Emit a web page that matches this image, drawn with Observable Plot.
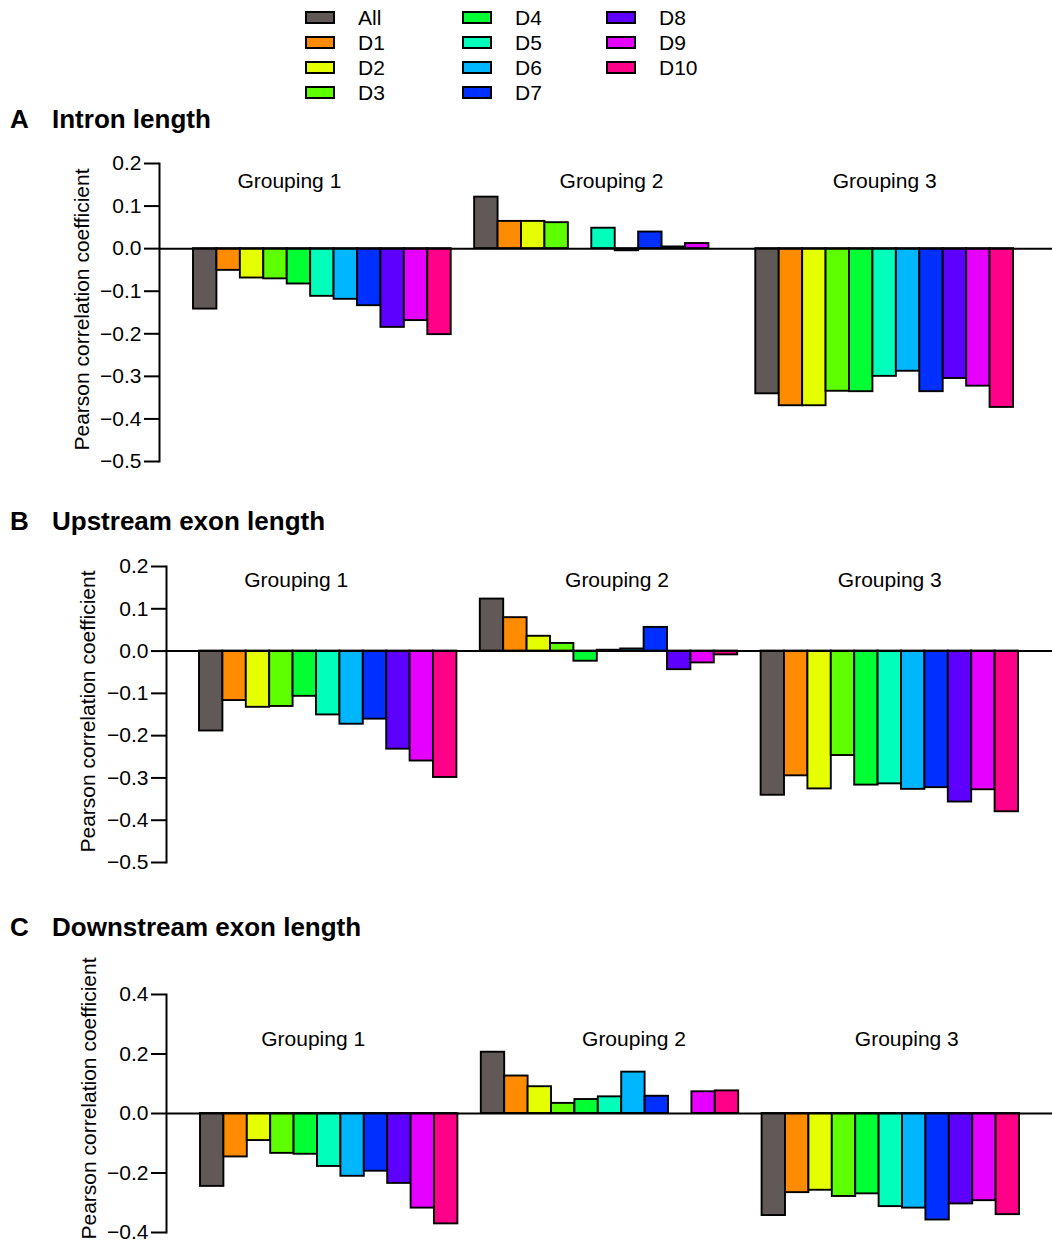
<!DOCTYPE html>
<html>
<head>
<meta charset="utf-8">
<script src="https://cdn.jsdelivr.net/npm/d3@7"></script>
<script src="https://cdn.jsdelivr.net/npm/@observablehq/plot@0.6"></script>
<style>
  body { margin: 0; background: #fff; font-family: "Liberation Sans", Arial, sans-serif; color: #000; }
  #page { position: relative; width: 1052px; height: 1247px; overflow: hidden; }
  .abs { position: absolute; }
  .title { font-weight: bold; font-size: 26px; line-height: 26px; white-space: nowrap; }
  .leg { display: flex; align-items: center; height: 25px; font-size: 21px; line-height: 25px; }
  .sw { position: absolute; width: 30px; height: 13px; box-sizing: border-box; border: 2px solid #000; }
  .lt { position: absolute; }
</style>
</head>
<body>
<div id="page"></div>
<script>
// ---------- data ----------
const series = ["All", "D1", "D2", "D3", "D4", "D5", "D6", "D7", "D8", "D9", "D10"];
const colors = ["#615957", "#ff8c00", "#e6ff00", "#5eff00", "#00ff33", "#00ffbb", "#00b6ff", "#0030ff", "#5e00ff", "#e600ff", "#ff0088"];
const groupings = ["Grouping 1", "Grouping 2", "Grouping 3"];

// A: Intron length
const intronG1 = [-0.142, -0.051, -0.069, -0.071, -0.083, -0.112, -0.119, -0.134, -0.185, -0.169, -0.202];
const intronG2 = [0.121, 0.064, 0.064, 0.061, 0.0, 0.048, -0.005, 0.039, 0.004, 0.012, 0.0];
const intronG3 = [-0.341, -0.369, -0.369, -0.335, -0.336, -0.300, -0.288, -0.336, -0.305, -0.323, -0.373];

// B: Upstream exon length
const upstreamG1 = [-0.189, -0.117, -0.133, -0.131, -0.107, -0.151, -0.173, -0.161, -0.232, -0.260, -0.299];
const upstreamG2 = [0.123, 0.079, 0.035, 0.018, -0.024, 0.002, 0.005, 0.056, -0.044, -0.028, -0.009];
const upstreamG3 = [-0.341, -0.295, -0.326, -0.247, -0.317, -0.314, -0.327, -0.323, -0.357, -0.328, -0.380];

// C: Downstream exon length
const downstreamG1 = [-0.245, -0.146, -0.091, -0.134, -0.137, -0.178, -0.211, -0.194, -0.235, -0.318, -0.371];
const downstreamG2 = [0.206, 0.126, 0.090, 0.034, 0.047, 0.056, 0.139, 0.058, 0.0, 0.073, 0.076];
const downstreamG3 = [-0.343, -0.266, -0.258, -0.279, -0.270, -0.313, -0.318, -0.358, -0.304, -0.293, -0.340];

const ticksAB = [0.2, 0.1, 0.0, -0.1, -0.2, -0.3, -0.4, -0.5];
const ticksC = [0.4, 0.2, 0.0, -0.2, -0.4];
const yLabel = "Pearson correlation coefficient";

// ---------- layout ----------
const page = document.getElementById("page");
const FONT = '"Liberation Sans", Arial, sans-serif';

// legend (column-major, 4 rows)
const legCols = [305, 462, 606];
const legRows = [5, 30, 55, 80];
series.forEach((s, i) => {
  const col = Math.floor(i / 4), row = i % 4;
  const sw = document.createElement("div");
  sw.className = "sw";
  sw.style.left = legCols[col] + "px";
  sw.style.top = (legRows[row] + 6) + "px";
  sw.style.background = colors[i];
  page.appendChild(sw);
  const t = document.createElement("div");
  t.className = "lt leg";
  t.style.left = (legCols[col] + 53) + "px";
  t.style.top = legRows[row] + "px";
  t.textContent = s;
  page.appendChild(t);
});

function addTitle(letter, text, top) {
  const a = document.createElement("div");
  a.className = "abs title";
  a.style.left = "10px"; a.style.top = top + "px";
  a.textContent = letter;
  page.appendChild(a);
  const b = document.createElement("div");
  b.className = "abs title";
  b.style.left = "52px"; b.style.top = top + "px";
  b.textContent = text;
  page.appendChild(b);
}

const fmt = d3.format(".1f");

function panel(cfg) {
  const groupsVals = cfg.values;
  const domain = [];
  const rows = [];
  groupings.forEach((g, gi) => {
    if (gi > 0) domain.push("gap" + gi);
    series.forEach((s, si) => {
      const key = g + "|" + s;
      domain.push(key);
      rows.push({key, grouping: g, series: s, value: groupsVals[gi][si]});
    });
  });
  const labelMarks = groupings.map((g, gi) =>
    Plot.text([g], {
      x: () => g + "|D5",
      frameAnchor: "top",
      lineAnchor: "middle",
      dy: cfg.labelDy,
      dx: cfg.labelDx[gi],
      text: d => d,
      fontSize: 21,
      fill: "black"
    })
  );
  const chart = Plot.plot({
    width: 1052,
    height: cfg.height,
    marginLeft: cfg.marginLeft,
    marginRight: 0,
    marginTop: cfg.marginTop,
    marginBottom: cfg.marginBottom,
    style: {fontFamily: FONT, color: "black", background: "white", overflow: "visible"},
    x: {type: "band", domain, padding: 0, round: false, insetLeft: cfg.insetLeft, insetRight: cfg.insetRight, axis: null},
    y: {domain: cfg.yDomain},
    color: {domain: series, range: colors},
    marks: [
      Plot.barY(rows, {x: "key", y: "value", fill: "series", stroke: "black", strokeWidth: 1.9}),
      Plot.ruleY([0], {stroke: "black", strokeWidth: 2}),
      Plot.axisY({ticks: cfg.ticks, tickFormat: fmt, tickSize: 15, tickPadding: 3, fontSize: 21, strokeWidth: 2, label: null}),
      Plot.frame({anchor: "left", stroke: "black", strokeWidth: 2}),
      Plot.text([yLabel], {frameAnchor: "left", textAnchor: "middle", lineAnchor: "middle", rotate: -90, dx: cfg.yLabelDx, dy: cfg.yLabelDy, text: d => d, fontSize: 21, fill: "black"}),
      ...labelMarks
    ]
  });
  const wrap = document.createElement("div");
  wrap.className = "abs";
  wrap.style.left = "0px";
  wrap.style.top = cfg.top + "px";
  wrap.appendChild(chart);
  page.appendChild(wrap);
}

addTitle("A", "Intron length", 106);
panel({
  values: [intronG1, intronG2, intronG3],
  top: 140, marginTop: 23, height: 23 + 298 + 12, marginBottom: 12,
  marginLeft: 159, insetLeft: 34, insetRight: 39,
  yDomain: [-0.5, 0.2], ticks: ticksAB,
  labelDy: 18, labelDx: [-33, 8, 0],
  yLabelDx: -77, yLabelDy: -3
});

addTitle("B", "Upstream exon length", 508);
panel({
  values: [upstreamG1, upstreamG2, upstreamG3],
  top: 540, marginTop: 26, height: 26 + 296 + 12, marginBottom: 12,
  marginLeft: 166, insetLeft: 33, insetRight: 34,
  yDomain: [-0.5, 0.2], ticks: ticksAB,
  labelDy: 14, labelDx: [-32, 8, 0],
  yLabelDx: -78, yLabelDy: -3
});

addTitle("C", "Downstream exon length", 914);
panel({
  values: [downstreamG1, downstreamG2, downstreamG3],
  top: 950, marginTop: 44, height: 44 + 238 + 30, marginBottom: 30,
  marginLeft: 166, insetLeft: 34, insetRight: 33,
  yDomain: [-0.4, 0.4], ticks: ticksC,
  labelDy: 45, labelDx: [-16, 24, 16],
  yLabelDx: -77, yLabelDy: -15
});
</script>
</body>
</html>
